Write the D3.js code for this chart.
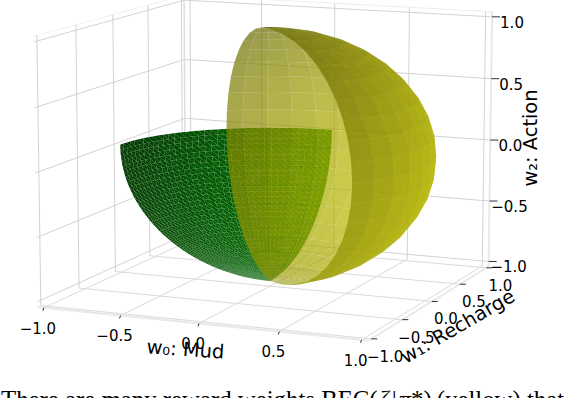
<!DOCTYPE html>
<html>
<head>
<meta charset="utf-8">
<script src="https://cdnjs.cloudflare.com/ajax/libs/d3/7.8.5/d3.min.js"></script>
<style>
  html, body { margin: 0; padding: 0; background: #fff; }
  svg { display: block; }
  .tick-label { font: 15px "DejaVu Sans"; fill: #000; text-anchor: middle; }
  .axis-label { font: 19.4px "DejaVu Sans"; fill: #000; text-anchor: middle; }
  .caption { font: 24.8px "Liberation Serif"; fill: #000; }
</style>
</head>
<body>
<script>
// tick values shared by the three axes
const tickValues = [-1, -0.5, 0, 0.5, 1];
const tickLabels = ["\u22121.0", "\u22120.5", "0.0", "0.5", "1.0"];

// sphere patches, angles in degrees
const greenLon = [90, 180];
const greenLat = [-90, 0];
const yellowLon = [-39, 129];
const yellowLat = [-90, 90];

// mesh density (degrees per facet)
const greenStep = 2.5;
const yellowStep = 9;

// view
const elev = 10.3, azim = -67, dist = 10;
const paneLim = 1 + 2 / 48;
const width = 564, height = 398;

const rad = Math.PI / 180;
const e = elev * rad, a = azim * rad;
const right = [-Math.sin(a), Math.cos(a), 0];
const up = [-Math.sin(e) * Math.cos(a), -Math.sin(e) * Math.sin(a), Math.cos(e)];
const cam = [Math.cos(e) * Math.cos(a), Math.cos(e) * Math.sin(a), Math.sin(e)];
const dot = (p, q) => p[0] * q[0] + p[1] * q[1] + p[2] * q[2];

// box aspect 4:4:3
const boxX = d3.scaleLinear().domain([-1, 1]).range([-0.5715, 0.5715]);
const boxZ = d3.scaleLinear().domain([-1, 1]).range([-0.44, 0.44]);
const screenX = d3.scaleLinear().domain([-1, 1]).range([270 - 291, 270 + 291]);
const screenY = d3.scaleLinear().domain([-1, 1]).range([156 + 291, 156 - 291]);

function toBox(p) { return [boxX(p[0]), boxX(p[1]), boxZ(p[2])]; }
function project(p) {
  const b = toBox(p);
  const s = dist / (dist - dot(b, cam));
  return [screenX(dot(b, right) * s), screenY(dot(b, up) * s)];
}
function depth(p) { return dot(toBox(p), cam); }

const svg = d3.select("body").append("svg").attr("width", width).attr("height", height);
const line = d3.line();

function seg(g, p, q, color, w) {
  g.append("path").attr("d", line([project(p), project(q)]))
    .attr("fill", "none").attr("stroke", color).attr("stroke-width", w);
}

// walls and floor
const L = paneLim;
const gridG = svg.append("g");
seg(gridG, [-L, L, L], [L, L, L], "#eeeeee", 1);
seg(gridG, [-L, -L, L], [-L, L, L], "#f0f0f0", 1);
tickValues.forEach(t => {
  seg(gridG, [-L, t, -L], [-L, t, L], "#d2d2d2", 1);
  seg(gridG, [-L, -L, t], [-L, L, t], "#d2d2d2", 1);
  seg(gridG, [t, L, -L], [t, L, L], "#d2d2d2", 1);
  seg(gridG, [-L, L, t], [L, L, t], "#d2d2d2", 1);
  seg(gridG, [t, -L, -L], [t, L, -L], "#dadada", 1);
  seg(gridG, [-L, t, -L], [L, t, -L], "#dadada", 1);
});

// axis lines
seg(gridG, [-L, -L, -L], [L, -L, -L], "#e8e8e8", 2);
seg(gridG, [L, -L, -L], [L, L, -L], "#e8e8e8", 2);
seg(gridG, [L, L, -L], [L, L, L], "#e8e8e8", 2);
seg(gridG, [-L, L, -L], [-L, L, L], "#dddddd", 1.5);

// mesh on the unit sphere, one cell per lon/lat step
function sph(lon, lat) {
  const c = Math.cos(lat * rad);
  return [c * Math.cos(lon * rad), c * Math.sin(lon * rad), Math.sin(lat * rad)];
}
function meshFacets(lonR, latR, step, base, alpha, split) {
  const lons = d3.range(lonR[0], lonR[1], step).concat(lonR[1]);
  const lats = d3.range(latR[0], latR[1], step).concat(latR[1]);
  const out = [];
  d3.pairs(lons).forEach(([l0, l1]) => {
    d3.pairs(lats).forEach(([b0, b1]) => {
      const A = sph(l0, b0), B = sph(l1, b0), C = sph(l1, b1), D = sph(l0, b1);
      const polys = split ? [[A, B, C], [A, C, D]] : [[A, B, C, D]];
      polys.forEach(tri => {
        const mid = [0, 1, 2].map(i => d3.mean(tri, v => v[i]));
        out.push({ tri, base, alpha, mid, z: depth(mid) });
      });
    });
  });
  return out;
}

// surface normals point inward, same light as matplotlib's default shading
const light = [-0.667, -0.667, 0.333];
const shadeNorm = d3.scaleLinear().domain([-1, 1]).range([0.3, 1]);
function facetColor(f) {
  const n = Math.hypot(f.mid[0], f.mid[1], f.mid[2]) || 1;
  const inward = [-f.mid[0] / n, -f.mid[1] / n, -f.mid[2] / n];
  const k = shadeNorm(dot(inward, light));
  return d3.rgb(f.base[0] * k, f.base[1] * k, f.base[2] * k).formatRgb();
}

function drawMesh(cls, facets) {
  svg.append("g").selectAll("path." + cls)
    .data(facets.sort((p, q) => p.z - q.z))
    .join("path")
    .attr("class", cls)
    .attr("d", f => line(f.tri.map(project)) + "Z")
    .attr("fill", facetColor)
    .attr("fill-opacity", f => f.alpha);
}

drawMesh("green", meshFacets(greenLon, greenLat, greenStep, [0, 128, 0], 1, true));
drawMesh("yellow", meshFacets(yellowLon, yellowLat, yellowStep, [191, 191, 0], 0.7, false));

// tick marks and tick labels
const tickG = svg.append("g");
const labelOffset = { x: [-6, 26], y: [14, 23], z: [20, 11] };
tickValues.forEach((t, i) => {
  const px = project([t, -L, -L]);
  tickG.append("path").attr("d", line([px, [px[0] - 1, px[1] + 3]])).attr("stroke", "#333").attr("fill", "none");
  tickG.append("text").attr("class", "tick-label")
    .attr("x", px[0] + labelOffset.x[0]).attr("y", px[1] + labelOffset.x[1]).text(tickLabels[i]);

  const py = project([L, t, -L]);
  tickG.append("path").attr("d", line([py, [py[0] + 6, py[1]]])).attr("stroke", "#333").attr("fill", "none");
  tickG.append("text").attr("class", "tick-label")
    .attr("x", py[0] + labelOffset.y[0]).attr("y", py[1] + labelOffset.y[1]).text(tickLabels[i]);

  const pz = project([L, L, t]);
  tickG.append("path").attr("d", line([pz, [pz[0] + 8, pz[1]]])).attr("stroke", "#333").attr("fill", "none");
  tickG.append("text").attr("class", "tick-label")
    .attr("x", pz[0] + labelOffset.z[0]).attr("y", pz[1] + labelOffset.z[1]).text(tickLabels[i]);
});

// axis titles
svg.append("text").attr("class", "axis-label").attr("transform", "translate(185,356) rotate(4)").text("w\u2080: Mud");
svg.append("text").attr("class", "axis-label").attr("transform", "translate(461,332) rotate(-30)").text("w\u2081: Recharge");
svg.append("text").attr("class", "axis-label").attr("transform", "translate(537,138) rotate(-90)").text("w\u2082: Action");

// the line of running text under the figure, cut by the page edge
const cap = svg.append("text").attr("class", "caption").attr("x", 1).attr("y", 407.5);
cap.append("tspan").text("There are many reward weights BEC(");
cap.append("tspan").attr("font-style", "italic").attr("dx", 1).text("\u03b6");
cap.append("tspan").attr("dx", 3).text("|");
cap.append("tspan").attr("font-style", "italic").attr("dx", 2).text("\u03c0");
cap.append("tspan").text("*)");
cap.append("tspan").attr("dx", 5).text("(yellow) that");
</script>
</body>
</html>
